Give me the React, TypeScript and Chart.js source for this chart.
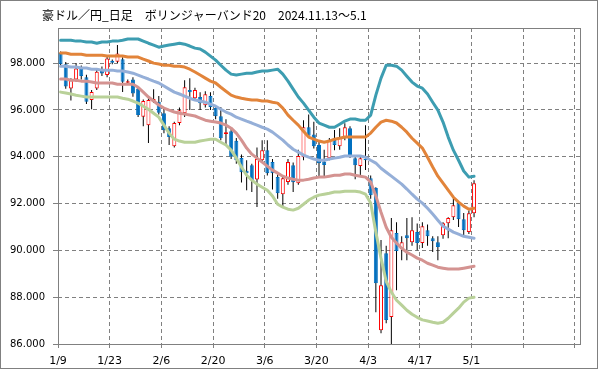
import React, { useEffect, useRef } from 'react';
import { Chart, registerables } from 'chart.js';

Chart.register(...registerables);

const TITLE = '豪ドル／円_日足　ボリンジャーバンド20　2024.11.13～5.1';

// Tick labels on the trading-day axis (every 10 trading days, starting at 1/9)
const X_TICK_LABELS = ['1/9', '1/23', '2/6', '2/20', '3/6', '3/20', '4/3', '4/17', '5/1', '', ''];
const TICK_EVERY = 10;
const Y_TICKS = [86, 88, 90, 92, 94, 96, 98];
const Y_MIN = 86;
const Y_MAX = 99.5;

// Daily candles (trading days from 1/9 to 5/1)
const OPEN = [
  98.43, 97.95, 96.92, 97.3, 97.75, 97.4, 96.42, 96.92, 97.7, 97.49,
  98.1, 98.06, 98.16, 97.16, 97.3, 96.92, 95.71, 95.35, 96.35, 96.35,
  95.86, 95.22, 94.45, 95.44, 95.86, 96.85, 96.5, 96.55, 96.2, 96.59,
  96.08, 95.73, 94.97, 95.09, 94.68, 93.95, 93.4, 93.64, 93.03, 93.85,
  94.28, 93.77, 93.13, 92.4, 92.92, 93.64, 92.87, 93.98, 95.26, 94.95,
  94.5, 93.8, 93.94, 94.71, 94.45, 94.84, 95.22, 93.94, 93.6, 93.9,
  93.08, 92.66, 86.59, 89.88, 87.15, 90.74, 90.05, 90.65, 90.35, 90.78,
  90.31, 90.86, 90.52, 90.35, 90.65, 91.16, 91.42, 92.02, 91.33, 90.78,
  91.59,
];
const HIGH = [
  98.5, 98.05, 97.35, 98.0, 97.9, 97.5, 96.85, 97.75, 97.85, 98.3,
  98.15, 98.77, 98.25, 97.3, 97.4, 97.0, 96.45, 96.5, 96.88, 96.6,
  96.05, 95.3, 95.5, 96.1, 97.27, 97.35, 96.95, 96.75, 96.8, 96.75,
  96.15, 96.13, 95.6, 95.2, 94.8, 94.1, 93.85, 93.7, 94.4, 94.7,
  94.7, 93.9, 93.25, 93.15, 93.9, 93.75, 94.3, 95.56, 95.8, 95.5,
  94.7, 94.3, 94.8, 95.14, 95.22, 95.43, 95.3, 94.05, 94.0, 95.35,
  93.2, 92.7, 90.44, 90.2, 91.38, 91.2, 90.6, 91.38, 91.42, 91.15,
  91.2, 91.1, 90.6, 90.6, 91.2, 91.42, 92.23, 92.1, 91.6, 91.7,
  93.0,
];
const LOW = [
  97.85, 96.9, 96.4, 97.2, 97.3, 96.25, 96.03, 96.85, 97.45, 97.4,
  97.95, 98.0, 96.77, 97.1, 96.56, 95.7, 95.3, 94.59, 96.3, 95.8,
  95.0, 94.5, 94.4, 95.35, 95.7, 96.0, 96.4, 96.0, 96.1, 96.0,
  95.6, 94.7, 94.5, 93.9, 93.7, 92.9, 92.57, 92.49, 91.85, 93.8,
  93.2, 92.6, 92.2, 91.85, 92.8, 92.49, 92.8, 93.85, 94.8, 94.35,
  93.13, 93.1, 93.85, 94.28, 94.3, 94.7, 93.95, 93.04, 93.21, 93.43,
  92.2, 87.36, 86.46, 86.89, 85.95, 88.3, 89.58, 89.58, 90.2, 90.0,
  90.1, 90.2, 89.93, 89.58, 90.5, 90.52, 91.3, 91.0, 90.6, 90.7,
  91.42,
];
const CLOSE = [
  97.95, 97.0, 97.27, 97.77, 97.45, 96.35, 96.77, 97.63, 97.56, 98.2,
  98.02, 98.41, 97.2, 97.23, 96.7, 95.78, 96.38, 96.42, 96.47, 95.88,
  95.13, 94.84, 95.44, 95.99, 96.97, 96.75, 96.85, 96.29, 96.67, 96.12,
  95.73, 94.79, 95.05, 94.0, 93.85, 93.34, 93.3, 93.0, 93.9, 94.28,
  93.3, 93.3, 92.44, 93.08, 93.77, 92.91, 94.03, 95.26, 94.9, 94.45,
  93.72, 93.65, 94.71, 94.5, 94.8, 95.26, 94.07, 93.64, 93.94, 93.85,
  92.36, 88.6, 88.51, 87.02, 90.86, 89.97, 90.35, 90.52, 90.86, 90.31,
  91.03, 90.6, 90.39, 90.14, 91.16, 91.38, 91.93, 91.33, 90.86, 91.59,
  92.87,
];

// Bollinger bands (20-day): +2σ, +1σ, MA, -1σ, -2σ
const BB_PLUS2 = [
  98.98, 98.98, 98.98, 98.94, 98.94, 98.9, 98.9, 98.85, 98.9, 98.9,
  98.94, 98.94, 98.98, 99.03, 99.03, 99.03, 98.94, 98.85, 98.77, 98.68,
  98.73, 98.77, 98.81, 98.85, 98.81, 98.73, 98.64, 98.6, 98.47, 98.3,
  98.13, 97.91, 97.7, 97.53, 97.49, 97.53, 97.57, 97.57, 97.62, 97.66,
  97.66, 97.7, 97.74, 97.53, 97.23, 96.89, 96.55, 96.29, 95.99, 95.69,
  95.44, 95.35, 95.26, 95.26, 95.39, 95.52, 95.61, 95.61, 95.56, 95.56,
  95.78, 96.63, 97.36, 97.91, 97.91, 97.87, 97.7, 97.44, 97.19, 97.02,
  96.93, 96.68, 96.33, 95.99, 95.48, 94.84, 94.28, 93.85, 93.39, 93.13,
  93.17,
];
const BB_PLUS1 = [
  98.43, 98.43, 98.38, 98.38, 98.38, 98.34, 98.34, 98.34, 98.34, 98.3,
  98.3, 98.3, 98.3, 98.26, 98.26, 98.26, 98.17, 98.09, 98.0, 97.96,
  97.91, 97.91, 97.87, 97.87, 97.83, 97.74, 97.62, 97.49, 97.36, 97.23,
  97.15, 96.97, 96.8, 96.63, 96.55, 96.5, 96.46, 96.42, 96.42, 96.38,
  96.38, 96.33, 96.29, 96.08, 95.78, 95.56, 95.35, 95.09, 94.84, 94.75,
  94.67, 94.62, 94.67, 94.75, 94.79, 94.84, 94.84, 94.84, 94.84, 94.84,
  95.01, 95.26, 95.48, 95.56, 95.52, 95.44, 95.26, 95.05, 94.79, 94.58,
  94.37, 93.98, 93.56, 93.17, 92.87, 92.57, 92.27, 92.06, 91.89, 91.76,
  91.8,
];
const BB_MID = [
  97.87, 97.87, 97.83, 97.83, 97.79, 97.79, 97.74, 97.74, 97.7, 97.7,
  97.7, 97.66, 97.66, 97.62, 97.57, 97.49, 97.4, 97.32, 97.23, 97.15,
  97.02, 96.89, 96.76, 96.68, 96.59, 96.5, 96.42, 96.38, 96.33, 96.25,
  96.16, 96.03, 95.91, 95.82, 95.69, 95.61, 95.52, 95.44, 95.35, 95.26,
  95.18, 95.05, 94.88, 94.71, 94.5, 94.32, 94.2, 94.07, 93.98, 93.9,
  93.85, 93.85, 93.9, 93.94, 93.98, 94.03, 94.03, 94.03, 94.03, 93.98,
  93.85, 93.73, 93.51, 93.34, 93.17, 93.0, 92.83, 92.62, 92.4, 92.19,
  92.02, 91.8, 91.55, 91.29, 91.03, 90.91, 90.78, 90.69, 90.6, 90.56,
  90.52,
];
const BB_MINUS1 = [
  97.32, 97.32, 97.27, 97.27, 97.23, 97.23, 97.19, 97.15, 97.15, 97.15,
  97.15, 97.1, 97.1, 97.1, 97.1, 96.97, 96.76, 96.55, 96.38, 96.21,
  96.08, 95.99, 95.91, 95.86, 95.82, 95.78, 95.74, 95.65, 95.56, 95.52,
  95.48, 95.44, 95.35, 95.22, 95.01, 94.71, 94.37, 94.11, 93.94, 93.77,
  93.6, 93.43, 93.3, 93.17, 93.09, 93.04, 93.0, 93.0, 93.04, 93.09,
  93.13, 93.13, 93.17, 93.21, 93.21, 93.26, 93.26, 93.21, 93.17, 93.13,
  92.92, 92.32, 91.63, 90.99, 90.56, 90.31, 90.09, 89.92, 89.8, 89.67,
  89.58, 89.45, 89.37, 89.28, 89.24, 89.2, 89.2, 89.2, 89.24, 89.28,
  89.32,
];
const BB_MINUS2 = [
  96.76, 96.72, 96.68, 96.63, 96.59, 96.55, 96.55, 96.55, 96.55, 96.55,
  96.55, 96.55, 96.5, 96.46, 96.38, 96.29, 96.16, 96.03, 95.86, 95.69,
  95.35, 95.01, 94.75, 94.67, 94.62, 94.62, 94.62, 94.67, 94.71, 94.75,
  94.75, 94.62, 94.5, 94.28, 93.94, 93.56, 93.21, 93.0, 92.83, 92.7,
  92.57, 92.32, 91.97, 91.85, 91.76, 91.72, 91.8, 91.97, 92.15, 92.27,
  92.36, 92.4, 92.44, 92.49, 92.49, 92.53, 92.53, 92.53, 92.49, 92.4,
  92.02, 90.78, 89.67, 88.68, 88.22, 87.87, 87.66, 87.44, 87.27, 87.14,
  87.03, 86.98, 86.93, 86.89, 86.93, 87.1, 87.32, 87.53, 87.79, 87.96,
  88.0,
];

const BLUE = '#0070C0';
const RED = '#FF0000';
const GRID = '#808080';

export default function App() {
  const ref = useRef<HTMLCanvasElement | null>(null);

  useEffect(() => {
    document.body.style.margin = '0';
    const canvas = ref.current;
    if (!canvas) return;
    const n = OPEN.length;
    const idx = OPEN.map((_, i) => i);
    const up = (i: number) => CLOSE[i] >= OPEN[i];
    const line = (data: number[], color: string) => ({
      type: 'line' as const,
      data: idx.map((i) => ({ x: i, y: data[i] })),
      borderColor: color,
      backgroundColor: color,
      borderWidth: 3,
      pointRadius: 0,
      tension: 0,
      borderJoinStyle: 'round' as const,
      borderCapStyle: 'round' as const,
      order: 0,
    });
    const tickValues = X_TICK_LABELS.map((_, k) => k * TICK_EVERY - 0.5);

    const chromePlugin = {
      id: 'chrome',
      beforeDraw(chart: any) {
        const c = chart.ctx;
        c.save();
        c.fillStyle = '#FFFFFF';
        c.fillRect(0, 0, chart.width, chart.height);
        c.restore();
      },
      beforeDatasetsDraw(chart: any) {
        const { left, top, right, bottom } = chart.chartArea;
        const c = chart.ctx;
        c.save();
        c.strokeStyle = '#808080';
        c.lineWidth = 1;
        c.strokeRect(Math.round(left) + 0.5, Math.round(top) + 0.5, Math.round(right - left), Math.round(bottom - top));
        c.restore();
      },
      afterDraw(chart: any) {
        const c = chart.ctx;
        c.save();
        c.strokeStyle = '#808080';
        c.lineWidth = 1;
        c.strokeRect(0.5, 0.5, chart.width - 2, chart.height - 2);
        c.fillStyle = '#000000';
        c.font = '12px "Noto Sans CJK JP", sans-serif';
        c.textBaseline = 'middle';
        c.textAlign = 'left';
        c.fillText(TITLE, 42, 15);
        c.restore();
      },
    };

    const chart = new Chart(canvas, {
      type: 'bar',
      data: {
        datasets: [
          line(BB_PLUS2, '#3D9DB1'),
          line(BB_PLUS1, '#E2843A'),
          line(BB_MID, '#95AFD8'),
          line(BB_MINUS1, '#D49391'),
          line(BB_MINUS2, '#B9D199'),
          {
            type: 'bar',
            data: idx.map((i) => ({ x: i, y: [OPEN[i], CLOSE[i]] })),
            backgroundColor: (c: any) => (up(c.dataIndex) ? '#FFFFFF' : BLUE),
            borderColor: (c: any) => (up(c.dataIndex) ? RED : BLUE),
            borderWidth: 1,
            borderSkipped: false,
            barThickness: 4,
            grouped: false,
            inflateAmount: 0,
            order: 1,
          } as any,
          {
            type: 'bar',
            data: idx.map((i) => ({ x: i, y: [LOW[i], HIGH[i]] })),
            backgroundColor: '#000000',
            borderWidth: 0,
            barThickness: 1,
            grouped: false,
            inflateAmount: 0,
            order: 2,
          } as any,
        ],
      },
      options: {
        animation: false,
        responsive: false,
        devicePixelRatio: 1,
        layout: { padding: { left: 0, top: 28, right: 19, bottom: 0 } },
        plugins: {
          legend: { display: false },
          tooltip: { enabled: false },
          title: { display: false },
        },
        scales: {
          x: {
            type: 'linear',
            offset: false,
            min: -0.5,
            max: n + 19.5,
            afterFit: (s: any) => {
              s.height = 26;
              s.paddingLeft = 0;
              s.paddingRight = 0;
            },
            afterBuildTicks: (s: any) => { s.ticks = tickValues.map((v) => ({ value: v })); },
            grid: { offset: false, color: GRID, lineWidth: 1, tickLength: 4, tickColor: '#808080', drawTicks: true },
            border: { display: false, dash: [4, 3] },
            ticks: {
              autoSkip: false,
              maxRotation: 0,
              padding: 7,
              color: '#000000',
              font: { family: 'DejaVu Sans', size: 11 },
              callback: (_v: any, k: number) => X_TICK_LABELS[k] ?? '',
            },
          },
          y: {
            type: 'linear',
            min: Y_MIN,
            max: Y_MAX,
            afterFit: (s: any) => {
              s.width = 58;
              s.paddingTop = 0;
              s.paddingBottom = 0;
            },
            afterBuildTicks: (s: any) => { s.ticks = Y_TICKS.map((v) => ({ value: v })); },
            grid: { color: GRID, lineWidth: 1, tickLength: 5, tickColor: '#808080', drawTicks: true },
            border: { display: false, dash: [4, 3] },
            ticks: {
              padding: 8,
              color: '#000000',
              font: { family: 'DejaVu Sans', size: 10 },
              callback: (v: any) => Number(v).toFixed(3),
            },
          },
        },
      } as any,
      plugins: [chromePlugin],
    });
    return () => chart.destroy();
  }, []);

  return (
    <div style={{ position: 'absolute', left: 0, top: 0, width: 599, height: 370 }}>
      <canvas ref={ref} width={599} height={370} style={{ display: 'block' }} />
    </div>
  );
}
